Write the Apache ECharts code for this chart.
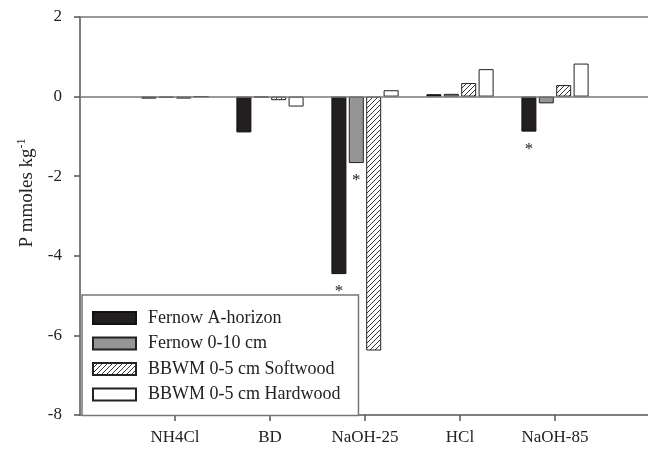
<!DOCTYPE html>
<html>
<head>
<meta charset="utf-8">
<script src="https://cdn.jsdelivr.net/npm/echarts@6/dist/echarts.min.js"></script>
<style>html,body{margin:0;padding:0;background:#fff}#c{width:648px;height:450px}</style>
</head>
<body>
<div id="c"></div>
<script>
const categories = ['NH4Cl', 'BD', 'NaOH-25', 'HCl', 'NaOH-85'];
const seriesNames = ['Fernow A-horizon', 'Fernow 0-10 cm', 'BBWM 0-5 cm Softwood', 'BBWM 0-5 cm Hardwood'];
const fernowA = [-0.05, -0.9, -4.46, 0.06, -0.88];
const fernow010 = [-0.03, -0.02, -1.67, 0.07, -0.17];
const bbwmSoft = [-0.05, -0.09, -6.38, 0.34, 0.29];
const bbwmHard = [0.0, -0.25, 0.16, 0.69, 0.83];
const sigFernowA = [false, false, true, false, true];
const sigFernow010 = [false, false, true, false, false];
const yTicks = [-8, -6, -4, -2, 0, 2];

function hatchPattern() {
  const s = 5;
  const c = document.createElement('canvas');
  c.width = s; c.height = s;
  const g = c.getContext('2d');
  g.fillStyle = '#fff'; g.fillRect(0, 0, s, s);
  g.strokeStyle = '#222'; g.lineWidth = 0.9;
  g.beginPath();
  g.moveTo(-1, s + 1); g.lineTo(s + 1, -1);
  g.moveTo(-1, 1); g.lineTo(1, -1);
  g.moveTo(s - 1, s + 1); g.lineTo(s + 1, s - 1);
  g.stroke();
  return c;
}

const serif = 'Liberation Serif, Times New Roman, serif';
const axisCats = [''].concat(categories, ['']);

function build(vals, sig) {
  return ['-'].concat(vals.map((v, i) => {
    if (sig && sig[i]) {
      return { value: v, label: { show: true, position: 'bottom', distance: 9, formatter: '*', fontFamily: serif, fontSize: 17, color: '#222' } };
    }
    return v;
  }), ['-']);
}

const styles = [
  { color: '#231f20', borderColor: '#111', borderWidth: 1 },
  { color: '#959595', borderColor: '#222', borderWidth: 1 },
  { color: { image: hatchPattern(), repeat: 'repeat' }, borderColor: '#222', borderWidth: 1 },
  { color: '#ffffff', borderColor: '#222', borderWidth: 1 }
];
const values = [fernowA, fernow010, bbwmSoft, bbwmHard];
const sigs = [sigFernowA, sigFernow010, null, null];

const series = seriesNames.map((n, k) => ({
  name: n,
  type: 'bar',
  barWidth: 15,
  barGap: '16%',
  itemStyle: styles[k],
  data: build(values[k], sigs[k]),
  emphasis: { disabled: true },
  markLine: k === 0 ? {
    silent: true, symbol: 'none', label: { show: false },
    lineStyle: { color: '#777', width: 1.5, type: 'solid' },
    data: [{ yAxis: 0 }]
  } : undefined
}));

const chart = echarts.init(document.getElementById('c'), null, { renderer: 'canvas' });
chart.setOption({
  animation: false,
  backgroundColor: '#fff',
  grid: { left: 80, top: 17, width: 570, height: 398, outerBoundsMode: 'none', containLabel: false, show: true, borderColor: '#777', borderWidth: 1.5, backgroundColor: 'transparent' },
  legend: {
    orient: 'vertical',
    left: 82, top: 295,
    data: seriesNames,
    icon: 'rect',
    itemWidth: 43, itemHeight: 12, itemGap: 7.5,
    padding: [14, 18, 12, 10],
    backgroundColor: '#fff',
    borderColor: '#777', borderWidth: 1.5,
    textStyle: { fontFamily: serif, fontSize: 18, color: '#222', lineHeight: 17, padding: [0, 0, 0, 7] },
    z: 10
  },
  xAxis: {
    type: 'category',
    data: axisCats,
    boundaryGap: false,
    axisLine: { onZero: false, lineStyle: { color: '#777', width: 1.5 } },
    axisTick: { length: 6, lineStyle: { color: '#555', width: 1.5 }, interval: (i) => i >= 1 && i <= categories.length },
    axisLabel: { fontFamily: serif, fontSize: 17, color: '#222', margin: 14, interval: 0 },
    splitLine: { show: false }
  },
  yAxis: {
    type: 'value',
    min: yTicks[0], max: yTicks[yTicks.length - 1], interval: 2,
    name: '{a|P mmoles kg}{b|-1}',
    nameLocation: 'middle',
    nameGap: 42,
    nameRotate: 90,
    nameTextStyle: {
      padding: [0, 0, 0, 46],
      rich: {
        a: { fontFamily: serif, fontSize: 19, color: '#222' },
        b: { fontFamily: serif, fontSize: 12, color: '#222', padding: [0, 0, 10, 0] }
      }
    },
    axisLine: { show: true, lineStyle: { color: '#777', width: 1.5 } },
    axisTick: { show: true, length: 6, lineStyle: { color: '#555', width: 1.5 } },
    axisLabel: { fontFamily: serif, fontSize: 17, color: '#222', margin: 18 },
    splitLine: { show: false }
  },
  series: series
});
</script>
</body>
</html>
